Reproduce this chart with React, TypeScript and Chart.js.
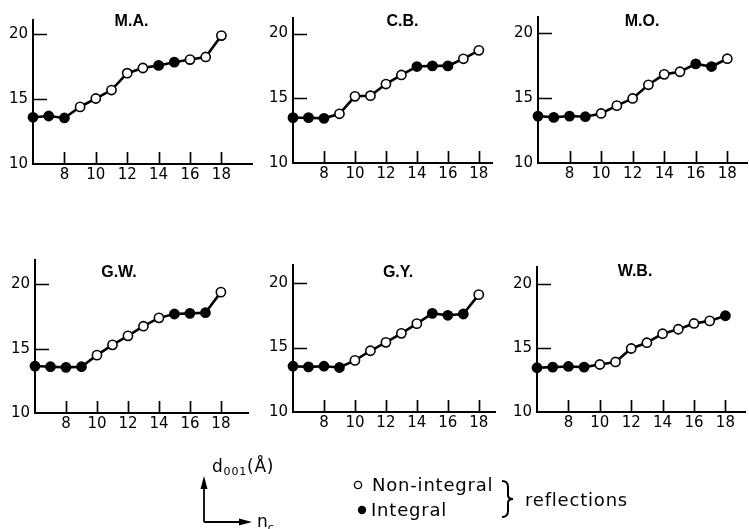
import React, { useEffect, useRef } from "react";
import { Chart, registerables } from "chart.js";

Chart.register(...registerables);

// ---------- data ----------
const nc = [6, 7, 8, 9, 10, 11, 12, 13, 14, 15, 16, 17, 18];
const xTickValues = [8, 10, 12, 14, 16, 18];
const yTickValues = [10, 15, 20];

const maValues = [13.6, 13.7, 13.55, 14.4, 15.05, 15.7, 17.0, 17.4, 17.6, 17.85, 18.05, 18.25, 19.9];
const maIntegral = [1, 1, 1, 0, 0, 0, 0, 0, 1, 1, 0, 0, 0];

const cbValues = [13.5, 13.5, 13.45, 13.8, 15.15, 15.2, 16.1, 16.8, 17.45, 17.5, 17.5, 18.05, 18.7];
const cbIntegral = [1, 1, 1, 0, 0, 0, 0, 0, 1, 1, 1, 0, 0];

const moValues = [13.6, 13.5, 13.6, 13.55, 13.8, 14.4, 14.95, 16.0, 16.8, 17.0, 17.6, 17.4, 18.0];
const moIntegral = [1, 1, 1, 1, 0, 0, 0, 0, 0, 0, 1, 1, 0];

const gwValues = [13.65, 13.6, 13.55, 13.6, 14.5, 15.3, 16.0, 16.75, 17.4, 17.7, 17.75, 17.8, 19.4];
const gwIntegral = [1, 1, 1, 1, 0, 0, 0, 0, 0, 1, 1, 1, 0];

const gyValues = [13.55, 13.5, 13.55, 13.45, 14.0, 14.75, 15.4, 16.1, 16.85, 17.65, 17.5, 17.6, 19.1];
const gyIntegral = [1, 1, 1, 1, 0, 0, 0, 0, 0, 1, 1, 1, 0];

const wbValues = [13.45, 13.5, 13.55, 13.5, 13.7, 13.9, 14.95, 15.4, 16.1, 16.45, 16.9, 17.1, 17.5];
const wbIntegral = [1, 1, 1, 1, 0, 0, 0, 0, 0, 0, 0, 0, 1];

const panelNames = ["M.A.", "C.B.", "M.O.", "G.W.", "G.Y.", "W.B."];
const panelValues = [maValues, cbValues, moValues, gwValues, gyValues, wbValues];
const panelIntegral = [maIntegral, cbIntegral, moIntegral, gwIntegral, gyIntegral, wbIntegral];

// ---------- layout (page pixels) ----------
type PanelLayout = {
  left: number; bottom: number; xMax: number; yMax: number;
  pxX: number; pxY: number; titleX: number; titleY: number;
};
const panelLayouts: PanelLayout[] = [
  { left: 33, bottom: 164, xMax: 20.0, yMax: 21.1, pxX: 16, pxY: 13, titleX: 131.5, titleY: 22 },
  { left: 293, bottom: 163, xMax: 18.9, yMax: 21.2, pxX: 15.8, pxY: 12.97, titleX: 402.5, titleY: 22 },
  { left: 538, bottom: 163, xMax: 19.3, yMax: 21.2, pxX: 16.1, pxY: 13, titleX: 642, titleY: 22 },
  { left: 35, bottom: 413, xMax: 19.8, yMax: 21.9, pxX: 15.8, pxY: 12.87, titleX: 119, titleY: 273 },
  { left: 293, bottom: 412, xMax: 19.1, yMax: 21.4, pxX: 15.8, pxY: 12.9, titleX: 398, titleY: 273 },
  { left: 537, bottom: 412, xMax: 19.3, yMax: 21.3, pxX: 16, pxY: 12.84, titleX: 635, titleY: 272 },
];

const FONT = "'DejaVu Sans', 'Liberation Sans', sans-serif";
const TITLE_FONT = "'Liberation Sans', Arial, sans-serif";
const Y_AXIS_W = 32;
const X_AXIS_H = 24;
const PAD_TOP = 16;
const PAD_RIGHT = 2;

function Panel({ idx }: { idx: number }) {
  const ref = useRef<HTMLCanvasElement | null>(null);
  const lay = panelLayouts[idx];
  const L = Math.round(lay.left);
  const B = Math.round(lay.bottom);
  const T = Math.round(lay.bottom - (lay.yMax - 10) * lay.pxY);
  const R = Math.round(lay.left + (lay.xMax - 6) * lay.pxX);
  const cLeft = L - Y_AXIS_W;
  const cTop = T - PAD_TOP;
  const cW = R - L + Y_AXIS_W + PAD_RIGHT;
  const cH = B - T + PAD_TOP + X_AXIS_H;

  useEffect(() => {
    if (!ref.current) return;
    const values = panelValues[idx];
    const integral = panelIntegral[idx];

    const inwardTicks = {
      id: "inwardTicks",
      afterDraw(chart: any) {
        const { ctx, chartArea, scales } = chart;
        ctx.save();
        ctx.strokeStyle = "#000";
        ctx.lineWidth = 1.7;
        ctx.beginPath();
        for (const v of xTickValues) {
          const px = Math.round(scales.x.getPixelForValue(v)) + 0.5;
          ctx.moveTo(px, chartArea.bottom);
          ctx.lineTo(px, chartArea.bottom - 12);
        }
        for (const v of yTickValues) {
          if (v === 10) continue;
          const py = Math.round(scales.y.getPixelForValue(v)) + 0.5;
          ctx.moveTo(chartArea.left, py);
          ctx.lineTo(chartArea.left + 14, py);
        }
        ctx.stroke();
        ctx.restore();
      },
    };

    const titlePlugin = {
      id: "panelTitle",
      afterDraw(chart: any) {
        const { ctx } = chart;
        ctx.save();
        ctx.fillStyle = "#000";
        ctx.font = `bold 16px ${TITLE_FONT}`;
        ctx.textAlign = "center";
        ctx.textBaseline = "middle";
        ctx.fillText(panelNames[idx], lay.titleX - cLeft, lay.titleY - cTop);
        ctx.restore();
      },
    };

    const chart = new Chart(ref.current, {
      type: "line",
      data: {
        datasets: [
          {
            data: nc.map((x, i) => ({ x, y: values[i] })),
            borderColor: "#000",
            borderWidth: 2.6,
            pointRadius: 4.6,
            pointBorderWidth: 1.6,
            pointBorderColor: "#000",
            pointBackgroundColor: integral.map((f) => (f ? "#000" : "#fff")),
            tension: 0,
            clip: false as any,
          },
        ],
      },
      options: {
        animation: false,
        responsive: false,
        events: [],
        layout: { padding: { top: PAD_TOP, right: PAD_RIGHT, left: 0, bottom: 0 } },
        plugins: { legend: { display: false }, tooltip: { enabled: false }, title: { display: false } },
        scales: {
          x: {
            type: "linear",
            min: 6,
            max: lay.xMax,
            grid: { display: false, drawTicks: false },
            border: { display: true, color: "#000", width: 2 },
            ticks: {
              font: { family: FONT, size: 15 },
              color: "#000",
              padding: 2,
              autoSkip: false,
              maxRotation: 0,
            },
            afterBuildTicks: (s: any) => {
              s.ticks = xTickValues.map((v) => ({ value: v }));
            },
            afterFit: (s: any) => {
              s.height = X_AXIS_H;
              s.paddingLeft = 0;
              s.paddingRight = 0;
            },
          },
          y: {
            type: "linear",
            min: 10,
            max: lay.yMax,
            grid: { display: false, drawTicks: false },
            border: { display: true, color: "#000", width: 2 },
            ticks: {
              font: { family: FONT, size: 15 },
              color: "#000",
              padding: 5,
              autoSkip: false,
            },
            afterBuildTicks: (s: any) => {
              s.ticks = yTickValues.map((v) => ({ value: v }));
            },
            afterFit: (s: any) => {
              s.width = Y_AXIS_W;
              s.paddingTop = 0;
              s.paddingBottom = 0;
            },
          },
        },
      } as any,
      plugins: [inwardTicks, titlePlugin],
    });
    return () => chart.destroy();
  }, [idx]);

  return (
    <canvas
      ref={ref}
      width={cW}
      height={cH}
      style={{ position: "absolute", left: cLeft, top: cTop, width: cW, height: cH }}
    />
  );
}

function Legend() {
  return (
    <svg
      width={749}
      height={529}
      style={{ position: "absolute", left: 0, top: 0, pointerEvents: "none" }}
      fontFamily={FONT}
    >
      {/* axis key */}
      <line x1={204} y1={522} x2={204} y2={486} stroke="#000" strokeWidth={1.8} />
      <polygon points="204,476 200.5,489 207.5,489" fill="#000" />
      <line x1={204} y1={522} x2={242} y2={522} stroke="#000" strokeWidth={1.8} />
      <polygon points="252,522 239,518.5 239,525.5" fill="#000" />
      <text x={212} y={472} fontSize={17} letterSpacing={0.8} fill="#000">
        d<tspan fontSize={11} dy={3}>001</tspan>
        <tspan fontSize={17} dy={-3}>(Å)</tspan>
      </text>
      <text x={257} y={527} fontSize={17} fill="#000">
        n<tspan fontSize={11} dy={4}>c</tspan>
      </text>
      {/* markers */}
      <circle cx={358} cy={485} r={3.6} fill="#fff" stroke="#000" strokeWidth={1.4} />
      <circle cx={362} cy={510} r={4.2} fill="#000" />
      <text x={372} y={491} fontSize={18} letterSpacing={0.8} fill="#000">Non-integral</text>
      <text x={371} y={516} fontSize={18} letterSpacing={0.8} fill="#000">Integral</text>
      <path
        d="M502,481 Q508,481 508,487 L508,495 Q508,499 513,499 Q508,499 508,503 L508,511 Q508,517 502,517"
        fill="none"
        stroke="#000"
        strokeWidth={2}
      />
      <text x={525} y={506} fontSize={18} letterSpacing={0.8} fill="#000">reflections</text>
    </svg>
  );
}

export default function App() {
  return (
    <div
      style={{
        position: "absolute",
        left: 0,
        top: 0,
        width: 749,
        height: 529,
        overflow: "hidden",
        background: "#fff",
      }}
    >
      {panelNames.map((_, i) => (
        <Panel key={i} idx={i} />
      ))}
      <Legend />
    </div>
  );
}
